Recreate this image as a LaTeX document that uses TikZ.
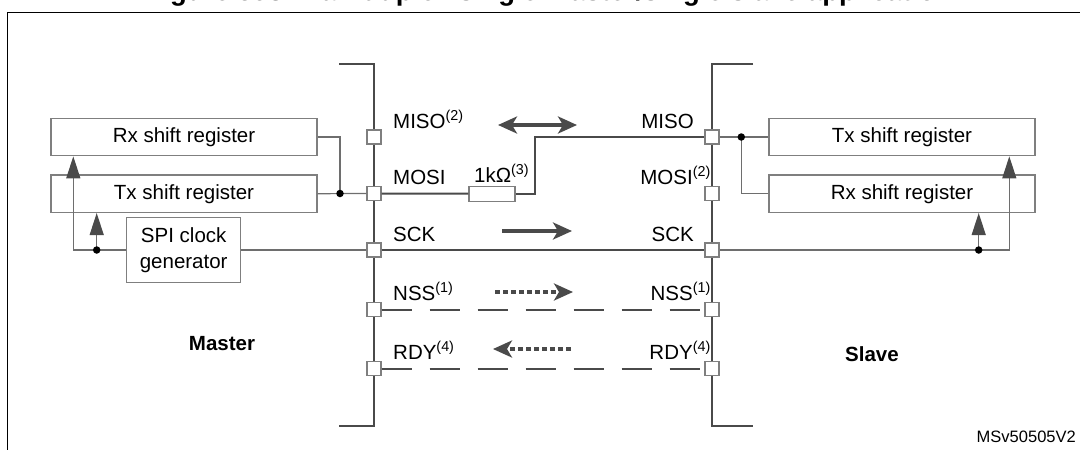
\documentclass[tikz,border=0pt]{standalone}
\usepackage{fontspec}
\setmainfont{Liberation Sans}
\usetikzlibrary{arrows.meta,positioning}

\definecolor{busgray}{HTML}{4A4A4A}
\definecolor{boxgray}{HTML}{7F7F7F}
\definecolor{wiregray}{HTML}{6E6E6E}

\tikzset{
  txt/.style={font=\fontsize{20.5}{25.5}\selectfont, inner sep=0pt},
  reg/.style={txt, draw=boxgray, line width=1.2pt, minimum width=266pt, minimum height=37.5pt},
  pin/.style={draw=boxgray, fill=white, line width=1.2pt, minimum size=14pt, inner sep=0pt},
  bus/.style={draw=busgray, line width=2pt},
  wire/.style={draw=wiregray, line width=1.2pt},
  dot/.style={circle, fill=black, minimum size=7.5pt, inner sep=0pt},
  flow/.style={draw=busgray, line width=3.2pt},
  clktip/.tip={Triangle[length=22pt,width=14pt,color=busgray]},
  flowtip/.tip={Stealth[length=19pt,width=17pt,inset=5pt]}
}

\begin{document}
\begin{tikzpicture}[x=1pt, y=-1pt]
  \useasboundingbox (0,0) rectangle (1080,450);
  \clip (0,0) rectangle (1080,450);

  % frame, title cut off at the top
  \node[font=\bfseries\fontsize{27.5}{30}\selectfont, inner sep=0pt, anchor=base] (title) at (549,0)
    {Figure 593. Half-duplex single master/single slave application};
  \draw[line width=1.6pt] (1085,12.5) -- (7.5,12.5) -- (7.5,455);

  % pin rails
  \draw[bus] (339,64) -- (374,64) -- (374,426) -- (339,426);
  \draw[bus] (753,64) -- (712,64) -- (712,426) -- (753,426);

  \foreach \sig/\y in {miso/137, mosi/193.5, sck/250, nss/309.5, rdy/368.5} {
    \node[pin] (m\sig) at (374,\y) {};
    \node[pin] (s\sig) at (712,\y) {};
  }

  \node[txt, anchor=base west] (lmmiso) at (393,128) {MISO\textsuperscript{(2)}};
  \node[txt, anchor=base west] (lmmosi) at (393,184.5) {MOSI};
  \node[txt, anchor=base west] (lmsck) at (393,241) {SCK};
  \node[txt, anchor=base west] (lmnss) at (393,300.5) {NSS\textsuperscript{(1)}};
  \node[txt, anchor=base west] (lmrdy) at (393,359.5) {RDY\textsuperscript{(4)}};
  \node[txt, anchor=base east] (lsmiso) at (694,128) {MISO};
  \node[txt, anchor=base east] (lsmosi) at (711,184.5) {MOSI\textsuperscript{(2)}};
  \node[txt, anchor=base east] (lssck) at (694,241) {SCK};
  \node[txt, anchor=base east] (lsnss) at (711,300.5) {NSS\textsuperscript{(1)}};
  \node[txt, anchor=base east] (lsrdy) at (711,359.5) {RDY\textsuperscript{(4)}};

  % lines between master and slave
  \node[pin, minimum width=46pt, minimum height=15pt] (res) at (492,193.7) {};
  \node[txt, anchor=base west] (lres) at (474,182) {1kΩ\textsuperscript{(3)}};
  \draw[bus] (mmosi.east) -- (res.west);
  \draw[bus] (res.east) -- ++(19,0) |- (smiso.west);
  \draw[bus] (msck.east) -- (ssck.west);
  \draw[bus, dash pattern=on 30pt off 18pt] (mnss.east) -- (snss.west);
  \draw[bus, dash pattern=on 30pt off 18pt] (mrdy.east) -- (srdy.west);

  \coordinate (misoA) at (498,125);
  \coordinate (misoB) at (577,125);
  \coordinate (sckA) at (502,231);
  \coordinate (sckB) at (572,231);
  \coordinate (nssA) at (495,292);
  \coordinate (nssB) at (573,292);
  \coordinate (rdyA) at (571,349);
  \coordinate (rdyB) at (493,349);
  \draw[flow, flowtip-flowtip] (misoA) -- (misoB);
  \draw[flow, -flowtip] (sckA) -- (sckB);
  \draw[flow, -flowtip, dash pattern=on 5pt off 3pt] (nssA) -- (nssB);
  \draw[flow, -flowtip, dash pattern=on 5pt off 3pt] (rdyA) -- (rdyB);

  % master side
  \node[reg] (mrx) at (184,137) {Rx shift register};
  \node[reg] (mtx) at (184,193.7) {Tx shift register};
  \node[reg, minimum width=114pt, minimum height=65pt, align=center] (mclk) at (183.7,250) {SPI clock\\generator};
  \coordinate (mjoin) at (340,193.5);
  \coordinate (mcjoin) at (96.7,250);
  \draw[wire] (mrx.east) -| (mjoin);
  \draw[wire] (mtx.east) -- (mmosi.west);
  \draw[wire] (mclk.east) -- (msck.west);
  \draw[wire, -clktip] (mclk.west) -| ([xshift=-110.7pt]mrx.south);
  \draw[wire, -clktip] (mcjoin) -- (mcjoin |- mtx.south);
  \node[dot] (mdot) at (mjoin) {};
  \node[dot] (mcdot) at (mcjoin) {};

  % slave side
  \node[reg] (stx) at (902,137) {Tx shift register};
  \node[reg] (srx) at (902,193.7) {Rx shift register};
  \coordinate (sjoin) at (741.3,137);
  \coordinate (scjoin) at (978.7,250);
  \draw[wire] (smiso.east) -- (stx.west);
  \draw[wire] (sjoin) |- (srx.west);
  \draw[wire, -clktip] (ssck.east) -| ([xshift=107.3pt]stx.south);
  \draw[wire, -clktip] (scjoin) -- (scjoin |- srx.south);
  \node[dot] (sdot) at (sjoin) {};
  \node[dot] (scdot) at (scjoin) {};

  \node[txt, font=\bfseries\fontsize{20.5}{24}\selectfont] (master) at (222,344) {Master};
  \node[txt, font=\bfseries\fontsize{20.5}{24}\selectfont] (slave) at (872,354) {Slave};
  \node[font=\fontsize{16.5}{20}\selectfont, inner sep=0pt, anchor=east] (code) at (1076,437) {MSv50505V2};
\end{tikzpicture}
\end{document}
